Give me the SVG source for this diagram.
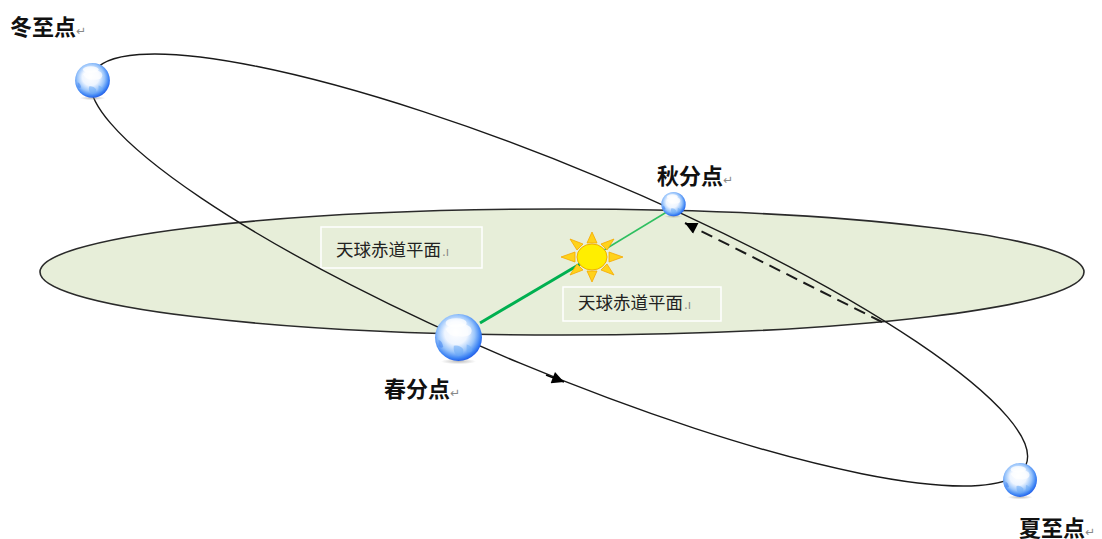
<svg xmlns="http://www.w3.org/2000/svg" xmlns:xlink="http://www.w3.org/1999/xlink" width="1102" height="539" viewBox="0 0 1102 539">
<style>
.lbl{font-family:"Liberation Sans","Noto Sans CJK SC",sans-serif;font-weight:bold;font-size:22px;fill:#111}
.ret{font-family:"DejaVu Sans",sans-serif;font-weight:normal;font-size:12px;fill:#888}
.box{fill:none;stroke:#ffffff;stroke-width:1.5}
.btxt{font-family:"Liberation Sans","Noto Sans CJK SC",sans-serif;font-size:17.5px;fill:#222}
.orbit{fill:none;stroke:#1a1a1a;stroke-width:1.4}
.eq{fill:#e7eed9;stroke:#2a2a2a;stroke-width:1.6}
</style>
<defs>
<radialGradient id="gGlobe" cx="0.46" cy="0.44" r="0.58" fx="0.44" fy="0.38">
<stop offset="0" stop-color="#ffffff"/>
<stop offset="0.42" stop-color="#eef5ff"/>
<stop offset="0.68" stop-color="#98c4fb"/>
<stop offset="0.88" stop-color="#3d84f4"/>
<stop offset="1" stop-color="#1d56e6"/>
</radialGradient>
<radialGradient id="gShadow" cx="0.5" cy="0.5" r="0.5">
<stop offset="0" stop-color="#888" stop-opacity="0.55"/>
<stop offset="1" stop-color="#888" stop-opacity="0"/>
</radialGradient>
<symbol id="globe" viewBox="-1 -1 2 2.3" overflow="visible">
<ellipse cx="0" cy="1.02" rx="0.75" ry="0.12" fill="url(#gShadow)"/>
<circle r="1" fill="url(#gGlobe)"/>
<path d="M-0.55,-0.35 q0.2,-0.25 0.5,-0.2 q0.3,-0.1 0.55,0.1 q0.15,0.2 -0.05,0.35 q-0.25,0.1 -0.45,0.05 q-0.35,0.05 -0.55,-0.3z" fill="#ffffff" opacity="0.7"/>
<path d="M-0.2,0.35 q0.25,-0.05 0.4,0.15 q0.05,0.25 -0.2,0.3 q-0.25,-0.1 -0.2,-0.45z" fill="#6aaaf5" opacity="0.55"/>
<path d="M0.35,0.3 q0.2,0.05 0.25,0.25 q-0.1,0.15 -0.25,0.05z" fill="#6aaaf5" opacity="0.5"/>
<path d="M-0.85,0.1 q0.15,0.05 0.2,0.3 q-0.1,0.1 -0.2,-0.05z" fill="#3d7ff0" opacity="0.5"/>
<ellipse cx="-0.1" cy="-0.62" rx="0.45" ry="0.2" fill="#ffffff" opacity="0.75"/>
</symbol>
<marker id="arrSolid" viewBox="0 0 10 10" refX="10" refY="5" markerWidth="16" markerHeight="12" markerUnits="userSpaceOnUse" orient="auto">
<path d="M0,0 L10,5 L0,10 z" fill="#000"/>
</marker>
</defs>

<rect width="1102" height="539" fill="#ffffff"/>

<g id="equator-plane">
<ellipse class="eq" cx="562" cy="272" rx="522" ry="63"/>
</g>

<g id="label-box-1">
<rect class="box" x="321" y="227" width="161" height="41"/>
<text class="btxt" x="336" y="256">天球赤道平面<tspan class="ret" dx="1">.ı</tspan></text>
</g>
<g id="label-box-2">
<rect class="box" x="563" y="287" width="158" height="34"/>
<text class="btxt" x="578" y="309">天球赤道平面<tspan class="ret" dx="1">.ı</tspan></text>
</g>

<g id="connectors">
<ellipse class="orbit" cx="559" cy="270" rx="506" ry="101" transform="rotate(22.65 559 270)"/>
<path d="M546,375 L564,382" stroke="#000" stroke-width="1.4" fill="none" marker-end="url(#arrSolid)"/>
<line x1="882" y1="322" x2="685" y2="223" stroke="#1a1a1a" stroke-width="2" stroke-dasharray="12 7" marker-end="url(#arrSolid)"/>
<line x1="480" y1="323" x2="580" y2="264" stroke="#00b050" stroke-width="3"/>
<line x1="604" y1="250" x2="670" y2="210" stroke="#2fbf60" stroke-width="1.5"/>
</g>

<g id="sun" transform="translate(592,257)">
<g fill="#ffd21a" stroke="#f5a800" stroke-width="0.8">
<polygon points="-31,0 -17,-5 -17,5"/>
<polygon points="31,0 17,-5 17,5"/>
<polygon points="0,-25 -5,-14 5,-14"/>
<polygon points="0,25 -5,14 5,14"/>
<polygon points="-22,-18 -15,-7 -9,-13"/>
<polygon points="22,-18 15,-7 9,-13"/>
<polygon points="-22,18 -15,7 -9,13"/>
<polygon points="22,18 15,7 9,13"/>
</g>
<ellipse rx="15" ry="13" fill="#ffee00" stroke="#f0b000" stroke-width="1"/>
</g>

<g id="winter-solstice">
<use xlink:href="#globe" x="75" y="63" width="35" height="40"/>
<text class="lbl" x="10" y="35">冬至点<tspan class="ret">↵</tspan></text>
</g>
<g id="autumn-equinox">
<use xlink:href="#globe" x="661" y="192" width="25" height="28"/>
<text class="lbl" x="657" y="184">秋分点<tspan class="ret">↵</tspan></text>
</g>
<g id="spring-equinox">
<use xlink:href="#globe" x="435" y="314" width="47" height="54"/>
<text class="lbl" x="384" y="397">春分点<tspan class="ret">↵</tspan></text>
</g>
<g id="summer-solstice">
<use xlink:href="#globe" x="1003" y="463" width="34" height="39"/>
<text class="lbl" x="1019" y="536">夏至点<tspan class="ret">↵</tspan></text>
</g>
</svg>
